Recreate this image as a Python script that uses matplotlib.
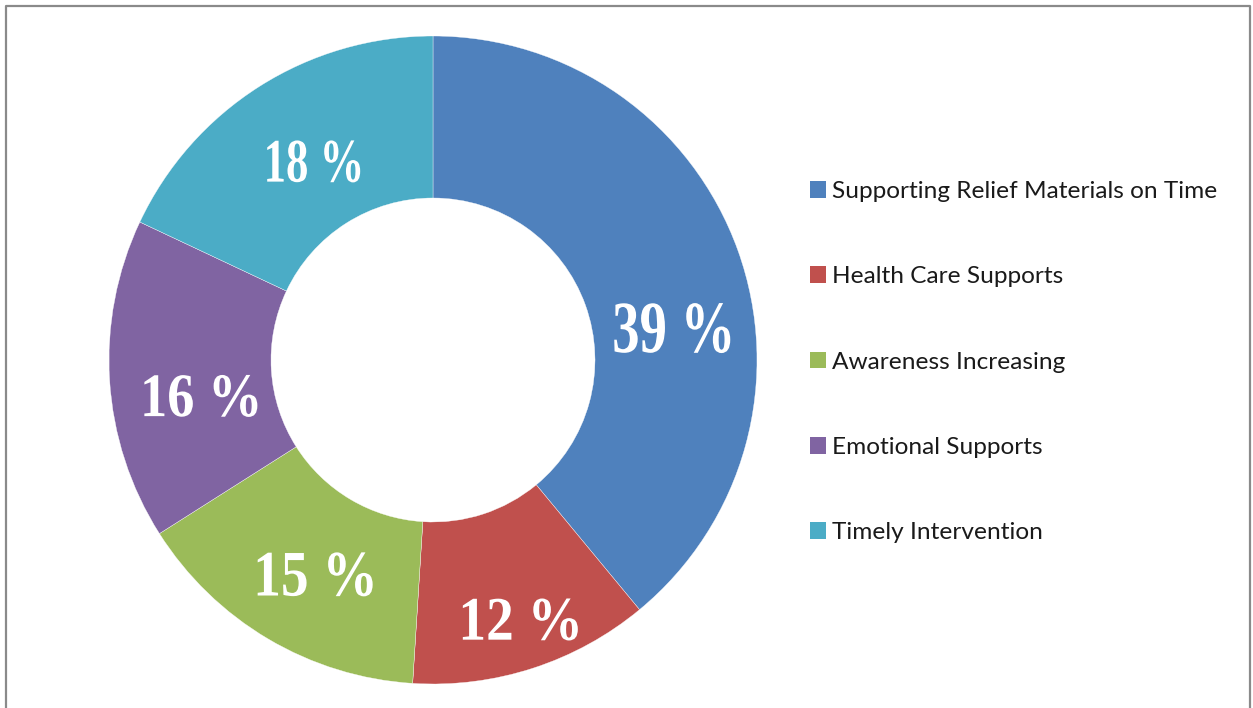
import numpy as np
import matplotlib.pyplot as plt
from matplotlib.patches import Patch, PathPatch
from matplotlib.textpath import TextPath
from matplotlib.font_manager import FontProperties
from matplotlib.transforms import Affine2D
from matplotlib.lines import Line2D

categories = ['Supporting Relief Materials on Time', 'Health Care Supports',
              'Awareness Increasing', 'Emotional Supports', 'Timely Intervention']
values = [39, 12, 15, 16, 18]
labels = ['39 %', '12 %', '15 %', '16 %', '18 %']
colors = ['#4F81BD', '#C0504D', '#9BBB59', '#8064A2', '#4BACC6']

W, H = 1253, 708
fig = plt.figure(figsize=(W / 100, H / 100), dpi=100)

# donut axes: center (433, 360) px, outer radius 324 px
R = 324
ax = fig.add_axes([(433 - R) / W, (H - 360 - R) / H, 2 * R / W, 2 * R / H])
wedges, _ = ax.pie(values, colors=colors, startangle=90, counterclock=False,
                   radius=1.0, wedgeprops=dict(width=0.5, edgecolor='white', linewidth=0.25))
ax.set_xlim(-1, 1)
ax.set_ylim(-1, 1)
ax.set_aspect('equal')
ax.axis('off')

# label look: condensed bold serif (height / width in px), small angle tweaks
lab_h = [50, 42, 44, 42, 42]
lab_w = [116, 115, 115, 113, 93]
lab_da = [-12.2, 0.6, 1.8, 5.2, -1.4]
lab_r = [0.745, 0.845, 0.755, 0.725, 0.715]

fp = FontProperties(family='Liberation Serif', weight='bold')
for w, s, h, wd, da, r in zip(wedges, labels, lab_h, lab_w, lab_da, lab_r):
    mid = np.deg2rad((w.theta1 + w.theta2) / 2 + da)
    cx, cy = r * np.cos(mid), r * np.sin(mid)
    tp = TextPath((0, 0), s, size=1, prop=fp)
    ext = tp.get_extents()
    sx = wd / R / ext.width
    sy = h / R / ext.height
    tr = Affine2D().translate(-(ext.x0 + ext.width / 2), -(ext.y0 + ext.height / 2)) \
        .scale(sx, sy).translate(cx, cy)
    ax.add_patch(PathPatch(tr.transform_path(tp), facecolor='white', edgecolor='none'))

handles = [Patch(facecolor=c, edgecolor='none') for c in colors]
fig.legend(handles, categories, loc='upper left',
           bbox_to_anchor=(810 / W, 1 - 181 / H), frameon=False,
           prop=FontProperties(family='Lato', size=17.6),
           handlelength=0.66, handleheight=0.66, handletextpad=0.25,
           labelspacing=2.63, borderpad=0, borderaxespad=0,
           labelcolor='#1a1a1a')

# outer frame (no bottom edge visible)
fig.add_artist(Line2D([6 / W, 6 / W, 1250 / W, 1250 / W], [0, 1 - 6 / H, 1 - 6 / H, 0],
                      transform=fig.transFigure, color='#8a8a8a', linewidth=1.6))

fig.savefig('out.png', dpi=100)
